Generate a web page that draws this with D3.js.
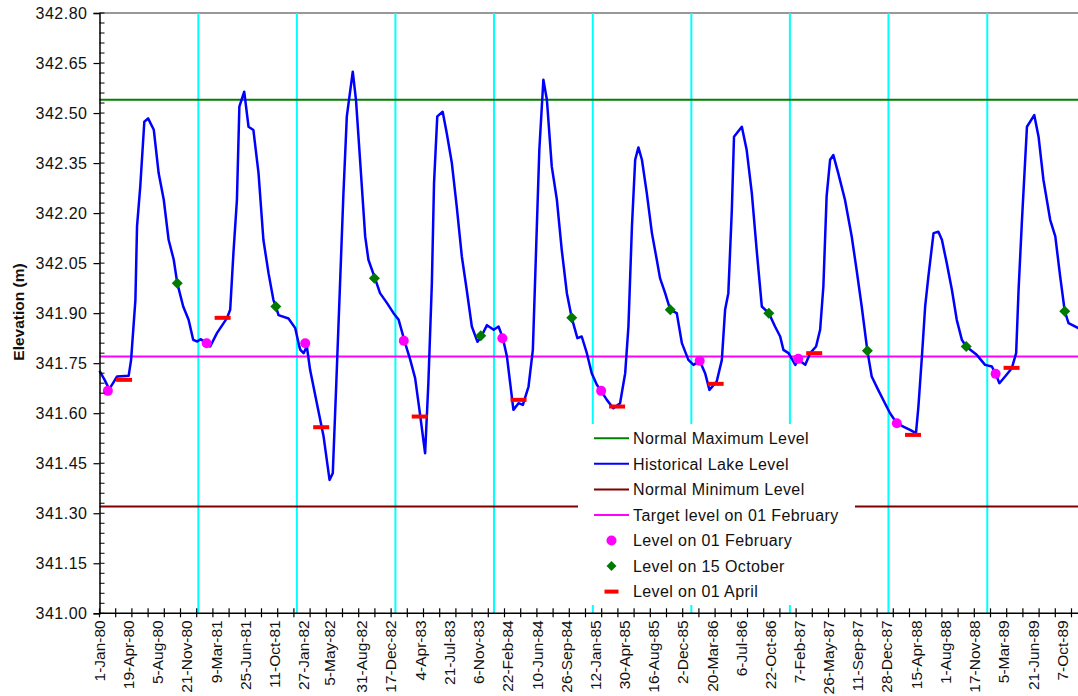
<!DOCTYPE html>
<html>
<head>
<meta charset="utf-8">
<script src="https://cdn.jsdelivr.net/npm/d3@7"></script>
<style>
  html, body { margin: 0; padding: 0; background: #fff; }
  svg { display: block; font-family: "Liberation Sans", Arial, sans-serif; }
</style>
</head>
<body>
<svg id="chart" width="1078" height="696"></svg>
<script>
// ---------------- DATA ----------------
const levelDates = [
"1980-01-01","1980-01-20","1980-02-06","1980-02-20","1980-03-06","1980-04-18","1980-04-27","1980-05-13","1980-05-19","1980-05-31",
"1980-06-15","1980-06-29","1980-07-20","1980-08-07","1980-08-26","1980-09-13","1980-10-02","1980-10-15","1980-11-06","1980-11-26",
"1980-12-13","1980-12-28","1981-01-09","1981-02-01","1981-02-14","1981-03-11","1981-04-17","1981-04-29","1981-05-11","1981-05-24",
"1981-06-02","1981-06-20","1981-07-06","1981-07-24","1981-08-12","1981-08-30","1981-09-18","1981-10-06","1981-10-15","1981-10-25",
"1981-12-01","1981-12-26","1982-01-10","1982-01-14","1982-01-26","1982-02-07","1982-02-19","1982-03-16","1982-04-10","1982-05-02",
"1982-05-14","1982-05-27","1982-06-10","1982-06-22","1982-07-05","1982-07-27","1982-08-08","1982-08-23","1982-09-11","1982-09-23",
"1982-10-17","1982-11-05","1982-12-01","1982-12-25","1983-01-13","1983-02-06","1983-02-25","1983-03-15","1983-03-31","1983-04-21",
"1983-05-03","1983-05-16","1983-05-24","1983-06-05","1983-06-25","1983-07-10","1983-07-29","1983-08-16","1983-09-04","1983-09-22",
"1983-10-11","1983-11-01","1983-11-15","1983-12-06","1983-12-31","1984-01-18","1984-02-03","1984-02-18","1984-03-01","1984-03-13",
"1984-04-01","1984-04-17","1984-05-08","1984-05-24","1984-06-05","1984-06-17","1984-07-02","1984-07-15","1984-08-02","1984-08-21",
"1984-09-08","1984-09-27","1984-10-15","1984-11-05","1984-11-21","1984-12-10","1984-12-28","1985-01-16","1985-02-01","1985-02-22",
"1985-03-18","1985-04-12","1985-05-01","1985-05-13","1985-05-26","1985-06-07","1985-06-19","1985-07-02","1985-07-20","1985-08-08",
"1985-08-26","1985-09-07","1985-09-26","1985-10-15","1985-11-08","1985-11-27","1985-12-21","1986-01-09","1986-02-01","1986-02-21",
"1986-03-09","1986-04-05","1986-04-24","1986-05-06","1986-05-18","1986-05-31","1986-06-08","1986-07-07","1986-07-25","1986-08-13",
"1986-09-01","1986-09-19","1986-10-15","1986-11-07","1986-11-26","1986-12-08","1986-12-27","1987-01-21","1987-02-01","1987-02-27",
"1987-03-17","1987-04-08","1987-04-23","1987-05-05","1987-05-17","1987-05-30","1987-06-11","1987-06-29","1987-07-24","1987-08-18",
"1987-09-05","1987-09-24","1987-10-15","1987-10-31","1987-11-24","1987-12-19","1988-01-07","1988-02-01","1988-02-25","1988-03-21",
"1988-04-12","1988-04-21","1988-05-04","1988-05-16","1988-05-28","1988-06-16","1988-07-04","1988-07-17","1988-08-04","1988-08-23",
"1988-09-10","1988-09-29","1988-10-15","1988-10-23","1988-11-23","1988-12-24","1989-01-18","1989-02-01","1989-02-15","1989-03-08",
"1989-04-02","1989-04-18","1989-04-27","1989-05-09","1989-05-28","1989-06-24","1989-07-10","1989-07-28","1989-08-22","1989-09-10",
"1989-09-28","1989-10-15","1989-10-29","1989-12-04","1989-12-31"
];
const levelValues = [
341.727,341.700,341.672,341.690,341.710,341.712,341.760,341.940,342.160,342.280,
342.474,342.484,342.450,342.320,342.240,342.120,342.060,341.990,341.920,341.880,
341.820,341.815,341.822,341.810,341.800,341.840,341.885,341.910,342.080,342.240,
342.519,342.564,342.459,342.449,342.320,342.120,342.020,341.940,341.920,341.894,
341.884,341.855,341.800,341.790,341.780,341.800,341.730,341.630,341.530,341.400,
341.420,341.690,341.990,342.250,342.490,342.624,342.539,342.360,342.130,342.060,
342.005,341.960,341.930,341.900,341.880,341.810,341.760,341.705,341.610,341.480,
341.690,341.990,342.290,342.490,342.504,342.440,342.350,342.220,342.070,341.970,
341.860,341.814,341.830,341.864,341.850,341.860,341.825,341.770,341.690,341.610,
341.630,341.625,341.680,341.790,342.090,342.390,342.600,342.540,342.340,342.240,
342.090,341.960,341.886,341.825,341.830,341.780,341.720,341.685,341.667,341.640,
341.615,341.630,341.720,341.860,342.160,342.360,342.397,342.360,342.260,342.140,
342.060,342.005,341.960,341.910,341.900,341.810,341.760,341.745,341.757,341.720,
341.670,341.695,341.760,341.910,341.960,342.210,342.429,342.459,342.389,342.260,
342.080,341.920,341.900,341.860,341.830,341.790,341.780,341.745,341.760,341.745,
341.780,341.800,341.850,341.980,342.250,342.360,342.374,342.320,342.240,342.130,
342.030,341.920,341.787,341.710,341.670,341.630,341.600,341.570,341.560,341.550,
341.540,341.620,341.770,341.920,342.010,342.140,342.144,342.120,342.050,341.970,
341.880,341.820,341.800,341.795,341.775,341.745,341.740,341.718,341.690,341.710,
341.735,341.780,341.970,342.170,342.459,342.494,342.429,342.300,342.180,342.130,
342.010,341.906,341.870,341.855,341.850
];

const febDates  = ["1980-02-01","1981-02-01","1982-02-01","1983-02-01","1984-02-01","1985-02-01","1986-02-01","1987-02-01","1988-02-01","1989-02-01"];
const febValues = [341.667,341.810,341.810,341.817,341.825,341.667,341.757,341.763,341.570,341.718];

const octDates  = ["1980-10-15","1981-10-15","1982-10-15","1983-11-13","1984-10-15","1985-10-15","1986-10-15","1987-10-15","1988-10-15","1989-10-15"];
const octValues = [341.990,341.920,342.005,341.832,341.886,341.910,341.900,341.787,341.800,341.906];

const aprDates  = ["1980-04-01","1981-04-01","1982-04-01","1983-04-01","1984-04-01","1985-04-01","1986-04-01","1987-04-01","1988-04-01","1989-04-01"];
const aprValues = [341.700,341.886,341.558,341.590,341.640,341.620,341.688,341.780,341.535,341.736];

const normalMaxLevel = 342.54;
const normalMinLevel = 341.32;
const targetFebLevel = 341.77;

const yearLineDates = ["1981-01-01","1982-01-01","1983-01-01","1984-01-01","1985-01-01","1986-01-01","1987-01-01","1988-01-01","1989-01-01"];

const xTickLabels = ["1-Jan-80","19-Apr-80","5-Aug-80","21-Nov-80","9-Mar-81","25-Jun-81","11-Oct-81","27-Jan-82","5-May-82",
"31-Aug-82","17-Dec-82","4-Apr-83","21-Jul-83","6-Nov-83","22-Feb-84","10-Jun-84","26-Sep-84","12-Jan-85","30-Apr-85",
"16-Aug-85","2-Dec-85","20-Mar-86","6-Jul-86","22-Oct-86","7-Feb-87","26-May-87","11-Sep-87","28-Dec-87","15-Apr-88",
"1-Aug-88","17-Nov-88","5-Mar-89","21-Jun-89","7-Oct-89"];

const yTickValues = [341.00,341.15,341.30,341.45,341.60,341.75,341.90,342.05,342.20,342.35,342.50,342.65,342.80];

const legendLabels = ["Normal Maximum Level","Historical Lake Level","Normal Minimum Level","Target level on 01 February",
                      "Level on 01 February","Level on 15 October","Level on 01 April"];

// ---------------- LAYOUT ----------------
const W = 1078, H = 696;
const X0 = 99.5, PX_PER_DAY = 0.27;
const TOP = 13, BOTTOM = 613.3;
const parseISO = d3.utcParse("%Y-%m-%d");
const parseLbl = d3.utcParse("%-d-%b-%y");
const start = parseISO("1980-01-01"), end = parseISO("1990-01-01");
const nDays = d3.utcDay.count(start, end);

const x = d3.scaleUtc().domain([start, end]).range([X0, X0 + nDays * PX_PER_DAY]);
const y = d3.scaleLinear().domain([341.0, 342.8]).range([BOTTOM, TOP]);

const COL = {
  max: "#008000", blue: "#0000ff", min: "#800000", target: "#ff00ff",
  feb: "#ff00ff", oct: "#007a00", apr: "#ff0000", cyan: "#00ffff"
};

const svg = d3.select("#chart");
const xRight = W + 10;

// plot-area top border
svg.append("line").attr("x1", X0).attr("x2", xRight).attr("y1", TOP).attr("y2", TOP)
  .attr("stroke", "#333").attr("stroke-width", 1);

// cyan yearly lines
svg.append("g").selectAll("line").data(yearLineDates).join("line")
  .attr("x1", d => x(parseISO(d))).attr("x2", d => x(parseISO(d)))
  .attr("y1", TOP).attr("y2", BOTTOM)
  .attr("stroke", COL.cyan).attr("stroke-width", 2);

// reference horizontal lines
const refs = [[normalMaxLevel, COL.max], [normalMinLevel, COL.min], [targetFebLevel, COL.target]];
svg.append("g").selectAll("line").data(refs).join("line")
  .attr("x1", X0).attr("x2", xRight)
  .attr("y1", d => y(d[0])).attr("y2", d => y(d[0]))
  .attr("stroke", d => d[1]).attr("stroke-width", 2);

// historical level line
const levelData = levelDates.map((d, i) => [parseISO(d), levelValues[i]]);
svg.append("path").datum(levelData)
  .attr("fill", "none").attr("stroke", COL.blue).attr("stroke-width", 2.5)
  .attr("stroke-linejoin", "round")
  .attr("d", d3.line().x(d => x(d[0])).y(d => y(d[1])));

// markers
const febData = febDates.map((d, i) => [parseISO(d), febValues[i]]);
const octData = octDates.map((d, i) => [parseISO(d), octValues[i]]);
const aprData = aprDates.map((d, i) => [parseISO(d), aprValues[i]]);

svg.append("g").selectAll("rect").data(aprData).join("rect")
  .attr("x", d => x(d[0]) - 8).attr("y", d => y(d[1]) - 2)
  .attr("width", 16).attr("height", 4).attr("fill", COL.apr);

svg.append("g").selectAll("path").data(octData).join("path")
  .attr("transform", d => `translate(${x(d[0])},${y(d[1])})`)
  .attr("d", "M0,-5.5L5.5,0L0,5.5L-5.5,0Z").attr("fill", COL.oct);

svg.append("g").selectAll("circle").data(febData).join("circle")
  .attr("cx", d => x(d[0])).attr("cy", d => y(d[1])).attr("r", 5).attr("fill", COL.feb);

// ---------------- AXES ----------------
const yAxis = svg.append("g").attr("transform", `translate(${X0},0)`)
  .call(d3.axisLeft(y).tickValues(yTickValues).tickSize(6).tickPadding(6).tickFormat(d3.format(".2f")));
yAxis.select(".domain").attr("stroke", "#000").attr("stroke-width", 1.5);
yAxis.selectAll(".tick line").attr("stroke", "#000").attr("stroke-width", 1.2);
yAxis.selectAll(".tick text").attr("font-size", 16).attr("fill", "#111")
  .style("letter-spacing", "0.5px").attr("font-family", "Liberation Sans, Arial, sans-serif");

const yMinor = d3.range(0, 61).map(i => 341.0 + i * 0.03).filter(v => v <= 342.8001);
svg.append("g").selectAll("line").data(yMinor).join("line")
  .attr("x1", X0).attr("x2", X0 + 5)
  .attr("y1", d => y(d)).attr("y2", d => y(d))
  .attr("stroke", "#000").attr("stroke-width", 1);

svg.append("line").attr("x1", X0).attr("x2", xRight).attr("y1", BOTTOM).attr("y2", BOTTOM)
  .attr("stroke", "#000").attr("stroke-width", 1.5);

const xMinor = d3.range(0, nDays + 1, 60).map(k => d3.utcDay.offset(start, k));
svg.append("g").selectAll("line").data(xMinor).join("line")
  .attr("x1", d => x(d)).attr("x2", d => x(d))
  .attr("y1", BOTTOM - 5).attr("y2", BOTTOM + 4)
  .attr("stroke", "#000").attr("stroke-width", 1.2);

svg.append("g").selectAll("text").data(xTickLabels).join("text")
  .attr("transform", d => `translate(${x(parseLbl(d))},${BOTTOM + 7}) rotate(-90)`)
  .attr("text-anchor", "end").attr("dy", "0.33em")
  .attr("font-size", 15.5).attr("fill", "#111")
  .text(d => d);

svg.append("text")
  .attr("transform", "translate(24,312) rotate(-90)")
  .attr("text-anchor", "middle").attr("font-weight", "bold").attr("font-size", 15.5)
  .attr("fill", "#111").text("Elevation (m)");

// ---------------- LEGEND ----------------
const lg = svg.append("g");
lg.append("rect").attr("x", 578).attr("y", 424).attr("width", 277).attr("height", 181).attr("fill", "#fff");
const legY = i => 438.3 + i * 25.55;
const legItems = legendLabels.map((t, i) => ({ t, i }));
const legG = lg.selectAll("g").data(legItems).join("g")
  .attr("transform", d => `translate(0,${legY(d.i)})`);
legG.append("text").attr("x", 633).attr("y", 0).attr("dy", "0.36em")
  .attr("font-size", 16).attr("fill", "#111").style("letter-spacing", "0.4px")
  .text(d => d.t);
const lineCols = [COL.max, COL.blue, COL.min, COL.target];
legG.filter(d => d.i < 4).append("line")
  .attr("x1", 594).attr("x2", 629).attr("y1", 0).attr("y2", 0)
  .attr("stroke", d => lineCols[d.i]).attr("stroke-width", 2);
legG.filter(d => d.i === 4).append("circle").attr("cx", 611.5).attr("cy", 0).attr("r", 5).attr("fill", COL.feb);
legG.filter(d => d.i === 5).append("path").attr("transform", "translate(611.5,0)")
  .attr("d", "M0,-5L5,0L0,5L-5,0Z").attr("fill", COL.oct);
legG.filter(d => d.i === 6).append("rect").attr("x", 604.5).attr("y", -2).attr("width", 14).attr("height", 4).attr("fill", COL.apr);
</script>
</body>
</html>
